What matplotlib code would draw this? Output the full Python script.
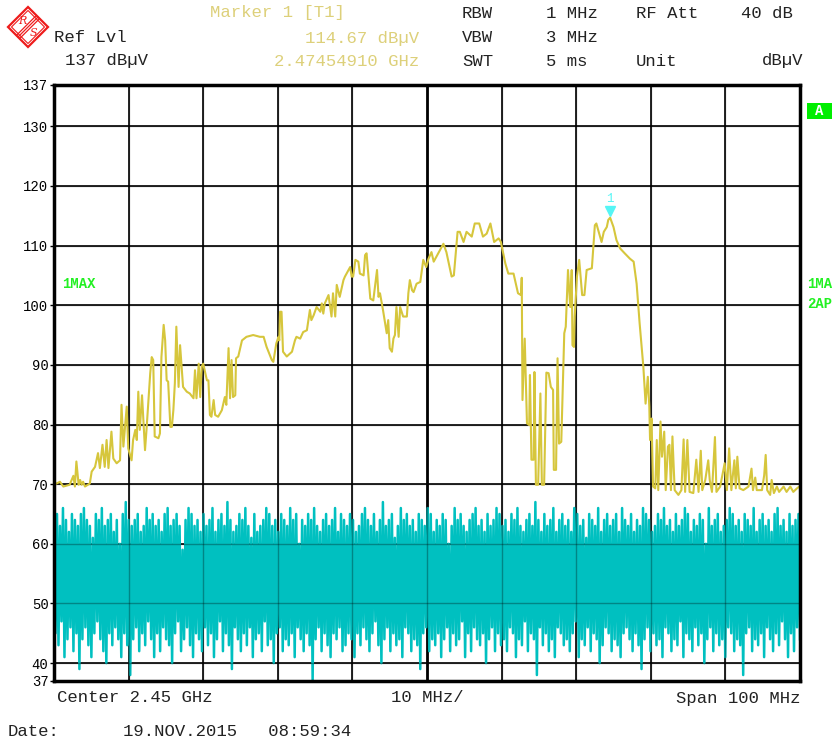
import numpy as np
import matplotlib
matplotlib.use("Agg")
import matplotlib.pyplot as plt
from matplotlib.patches import Polygon, Rectangle

# ---------------- data ----------------
start_mhz = 2400.0
span_mhz = 100.0
ref_level = 137
bottom_level = 37
y_tick_values = [37, 40, 50, 60, 70, 80, 90, 100, 110, 120, 130, 137]
y_tick_labels = ["37", "40", "50", "60", "70", "80", "90", "100", "110", "120", "130", "137"]
x_grid_mhz = [0, 10, 20, 30, 40, 50, 60, 70, 80, 90, 100]

# trace 1 (max hold), frequency offset in MHz from start, level in dBuV
trace1_freq = [
    0, 0.8, 1.25, 2.1, 2.6, 2.8, 3.0, 3.3, 3.5, 3.7, 3.9, 4.15, 4.8, 5.05, 5.5, 5.9, 6.15, 6.5, 6.8, 7.05,
    7.3, 7.7, 7.95, 8.4, 8.85, 9.05, 9.3, 9.75, 9.95, 10.4, 10.6, 10.9, 11.1, 11.3, 11.5, 11.8, 12.2, 12.4,
    12.9, 13.1, 13.3, 13.5, 14.0, 14.2, 14.4, 14.7, 14.9, 15.1, 15.3, 15.6, 15.8, 16.0, 16.2, 16.4, 16.7,
    16.9, 17.3, 17.8, 18.2, 18.7, 18.9, 19.1, 19.4, 19.6, 19.8, 20.0, 20.5, 20.7, 20.9, 21.1, 21.4, 21.6,
    22.0, 22.5, 22.9, 23.1, 23.4, 23.6, 23.8, 24.0, 24.3, 24.4, 24.7, 25.2, 25.8, 26.7, 27.6, 28.1, 28.5,
    29.2, 29.4, 29.8, 30.1, 30.2, 30.3, 30.5, 30.7, 31.2, 31.9, 32.3, 32.5, 33.0, 33.4, 33.9, 34.3, 34.5,
    34.8, 35.2, 35.7, 35.9, 36.1, 36.3, 36.8, 37.2, 37.4, 37.7, 37.9, 38.3, 38.8, 39.0, 39.7, 39.9, 40.1,
    40.4, 40.8, 41.0, 41.5, 41.7, 41.9, 42.4, 42.8, 43.3, 43.5, 43.7, 44.1, 44.6, 44.8, 45.0, 45.3, 45.5,
    45.7, 45.9, 46.2, 46.4, 46.8, 47.3, 47.5, 47.7, 48.0, 48.2, 48.6, 49.1, 49.5, 49.9, 50.2, 50.6, 50.9,
    51.5, 52.2, 52.6, 53.3, 53.6, 54.1, 54.4, 54.9, 55.3, 56.0, 56.4, 57.0, 57.5, 58.0, 58.5, 59.0, 59.6,
    59.9, 60.5, 60.9, 61.6, 62.2, 62.6, 62.7, 62.8, 63.1, 63.4, 63.7, 63.8, 64.0, 64.3, 64.4, 64.6, 64.9,
    65.2, 65.4, 65.7, 66.0, 66.3, 66.6, 66.9, 67.0, 67.3, 67.5, 67.7, 68.0, 68.4, 68.6, 68.9, 69.2, 69.4,
    69.5, 69.7, 69.8, 70.1, 70.4, 70.8, 71.1, 71.4, 72.1, 72.5, 72.7, 73.4, 73.7, 74.1, 74.3, 74.55, 75.0,
    75.4, 75.9, 76.5, 77.2, 77.7, 78.1, 78.5, 79.0, 79.3, 79.6, 79.8, 79.9, 80.1, 80.3, 80.6, 80.8, 81.0,
    81.3, 81.5, 81.8, 82.0, 82.3, 82.5, 82.7, 82.9, 83.2, 83.7, 84.1, 84.4, 84.6, 84.9, 85.2, 85.7, 86.1,
    86.4, 86.7, 86.9, 87.3, 87.7, 87.9, 88.2, 88.6, 88.8, 89.3, 89.9, 90.2, 90.5, 90.8, 91.2, 91.4, 91.6,
    91.9, 92.4, 93.1, 93.5, 93.7, 94.0, 94.2, 94.9, 95.2, 95.4, 95.6, 96.0, 96.2, 96.5, 96.9, 97.2, 97.8,
    98.2, 98.7, 99.1, 99.6, 100.0]
trace1_level = [
    69.9, 70.4, 69.6, 69.9, 71.4, 69.6, 73.8, 69.9, 70.7, 69.9, 70.4, 69.6, 70.1, 72.1, 72.9, 75.2, 72.7, 76.6, 72.9, 77.4,
    72.7, 78.8, 74.3, 73.5, 74.0, 83.3, 76.3, 83.0, 76.0, 74.0, 77.4, 79.1, 77.4, 85.5, 79.1, 84.9, 75.7, 79.1,
    88.6, 91.3, 90.8, 78.0, 77.7, 78.5, 91.3, 96.7, 94.1, 87.4, 87.2, 79.6, 79.6, 82.4, 86.9, 96.4, 86.3,
    93.3, 86.3, 85.5, 85.2, 84.4, 89.1, 84.4, 90.2, 84.6, 89.7, 90.2, 87.4, 87.4, 81.6, 81.3, 84.1, 81.6,
    81.3, 82.4, 84.6, 83.3, 92.8, 84.4, 90.8, 84.6, 84.9, 91.1, 91.4, 94.1, 94.7, 95.0, 94.7, 94.7, 93.0,
    90.8, 90.5, 93.6, 94.7, 94.1, 98.9, 98.9, 92.2, 91.4, 92.2, 94.1, 94.7, 94.4, 95.5, 95.8, 99.2, 97.5,
    98.3, 99.7, 98.9, 100.3, 98.6, 100.3, 101.7, 98.1, 102.0, 98.1, 103.4, 101.4, 104.2, 104.8, 106.4, 104.8, 104.8,
    107.6, 107.3, 105.3, 105.0, 108.4, 108.7, 101.1, 100.8, 105.9, 101.4, 102.0, 99.2, 95.3, 97.5, 92.8, 92.2, 94.4,
    95.0, 99.7, 94.7, 99.7, 98.1, 98.1, 102.0, 104.2, 102.5, 102.2, 103.6, 103.9, 107.6, 106.4, 107.8, 108.9, 107.3,
    108.7, 110.3, 108.9, 104.8, 105.0, 112.3, 112.3, 110.6, 112.3, 111.5, 113.7, 113.7, 111.5, 112.0, 113.7, 110.6, 111.2,
    110.6, 107.0, 105.3, 105.3, 102.0, 101.7, 104.6, 84.1, 94.4, 80.2, 79.9, 88.3, 74.1, 74.1, 88.8, 69.9, 69.9,
    85.2, 69.9, 69.9, 88.7, 88.6, 86.3, 85.8, 72.4, 72.4, 91.1, 76.8, 77.1, 95.3, 96.4, 105.9, 99.7, 105.9,
    93.3, 93.0, 98.1, 104.8, 107.6, 101.7, 101.7, 105.9, 106.2, 113.4, 113.7, 110.6, 112.3, 113.1, 114.3, 114.67, 113.1,
    110.9, 109.5, 108.7, 107.8, 107.3, 103.6, 97.0, 89.7, 83.5, 88.0, 83.0, 77.4, 81.0, 69.6, 69.3, 77.4, 69.0,
    80.5, 74.6, 78.8, 69.0, 76.3, 76.6, 69.0, 78.0, 69.0, 68.2, 69.0, 77.5, 68.7, 77.4, 68.7, 68.5, 74.1,
    68.7, 75.6, 69.0, 70.7, 74.0, 70.7, 68.7, 77.9, 68.7, 69.6, 73.5, 69.0, 76.0, 69.0, 74.0, 69.3, 74.6,
    69.3, 69.0, 69.6, 72.6, 69.0, 71.1, 69.0, 69.0, 71.5, 74.9, 69.0, 68.2, 70.7, 68.5, 69.6, 68.7, 69.6,
    68.7, 69.6, 68.7, 69.3, 69.7]

# trace 2 (clear/write noise): alternating peaks and troughs, dBuV
trace2_peaks = [
    64, 65, 63, 66, 64, 62, 65, 64, 63, 65, 66, 64, 63, 61, 65, 64, 66, 63, 64, 65, 62, 64, 60, 65, 67, 64, 63, 64, 65, 62,
    63, 66, 64, 65, 63, 64, 62, 65, 66, 63, 64, 65, 63, 59, 64, 66, 65, 63, 64, 62, 65, 63, 64, 66, 62, 64, 65, 63, 67, 64,
    62, 63, 65, 64, 66, 63, 61, 65, 62, 63, 64, 66, 65, 63, 64, 62, 65, 64, 63, 66, 64, 65, 60, 64, 63, 65, 64, 66, 63, 62,
    64, 65, 63, 64, 66, 62, 65, 64, 63, 65, 64, 62, 63, 65, 66, 64, 63, 65, 62, 64, 67, 63, 64, 65, 61, 63, 66, 64, 65, 63,
    64, 62, 65, 64, 63, 66, 65, 62, 64, 63, 65, 64, 60, 63, 66, 64, 65, 63, 62, 64, 65, 66, 63, 64, 62, 65, 63, 64, 66, 65,
    63, 64, 62, 65, 64, 66, 63, 62, 64, 65, 63, 67, 64, 62, 65, 63, 64, 66, 62, 64, 65, 63, 64, 62, 66, 65, 63, 64, 61, 65,
    64, 63, 66, 62, 64, 65, 63, 64, 65, 62, 66, 64, 63, 65, 62, 64, 63, 66, 65, 64, 62, 63, 65, 64, 66, 63, 64, 62, 65, 63,
    64, 66, 65, 62, 64, 63, 65, 64, 60, 66, 63, 64, 65, 62, 63, 64, 66, 65, 63, 64, 62, 65, 64, 63, 66, 62, 64, 65, 63, 64,
    62, 65, 66, 63, 64, 62, 65, 63, 64, 65]
trace2_troughs = [
    45, 43, 47, 41, 44, 46, 42, 45, 39, 44, 46, 43, 41, 45, 47, 44, 42, 40, 45, 43, 46, 44, 41, 45, 43, 38, 44, 46, 42, 45,
    43, 47, 44, 41, 45, 42, 46, 44, 43, 40, 45, 47, 42, 44, 46, 43, 41, 45, 44, 42, 46, 43, 45, 41, 44, 47, 42, 45, 43, 39,
    46, 44, 42, 45, 43, 46, 41, 44, 45, 42, 47, 43, 44, 40, 45, 46, 42, 44, 43, 45, 41, 46, 44, 42, 45, 43, 37, 44, 46, 42,
    45, 43, 41, 45, 44, 46, 42, 43, 45, 44, 41, 45, 43, 46, 44, 42, 45, 47, 43, 40, 44, 46, 42, 45, 43, 44, 41, 46, 45, 42,
    44, 43, 39, 45, 46, 42, 44, 43, 45, 41, 44, 46, 42, 45, 43, 44, 47, 41, 45, 42, 46, 44, 43, 45, 40, 44, 46, 42, 45, 43,
    44, 42, 46, 45, 41, 44, 43, 47, 42, 45, 44, 38, 46, 43, 45, 42, 44, 41, 46, 45, 43, 44, 42, 45, 47, 41, 44, 43, 46, 42,
    45, 44, 40, 43, 46, 45, 42, 44, 43, 41, 45, 46, 44, 42, 45, 43, 39, 44, 46, 42, 45, 43, 44, 41, 46, 45, 42, 44, 43, 47,
    41, 45, 44, 42, 46, 43, 45, 40, 44, 46, 42, 45, 43, 44, 41, 46, 45, 42, 44, 43, 38, 45, 46, 42, 44, 43, 45, 41, 46, 44,
    42, 45, 43, 47, 44, 41, 45, 42, 46, 44]

marker_freq = 74.5491
marker_level = 114.67

# ---------------- styling ----------------
MONO = ["Liberation Mono", "DejaVu Sans Mono"]
YEL = "#d6c63c"
YEL_TXT = "#ddd07a"
CYAN = "#00c0c0"
GREEN = "#22f022"
W, H = 833, 743

fig = plt.figure(figsize=(W / 100, H / 100), dpi=100)
fig.patch.set_facecolor("white")

def fx(px):
    return px / W

def fy(py):
    return 1 - py / H

ax = fig.add_axes([fx(54), fy(681), fx(800) - fx(54), fy(84.5) - fy(681)])
ax.set_xlim(0, span_mhz)
ax.set_ylim(bottom_level, ref_level)

# grid (below the traces)
for xv in x_grid_mhz:
    ax.axvline(xv, color="black", lw=2.0 if xv == 50 else 1.2, zorder=0.5)
for yv in y_tick_values:
    ax.axhline(yv, color="black", lw=1.2, zorder=0.5)

# noise trace (interleave peaks & troughs)
t2 = np.empty(len(trace2_peaks) + len(trace2_troughs))
t2[0::2] = trace2_peaks
t2[1::2] = trace2_troughs
x2 = np.linspace(0, span_mhz, len(t2))
ax.plot(x2, t2, color=CYAN, lw=1.8, zorder=1)

# faint grid showing through the noise band
for xv in x_grid_mhz:
    ax.axvline(xv, color="black", lw=1.0, alpha=0.3, zorder=1.5)
for yv in y_tick_values:
    ax.axhline(yv, color="black", lw=1.0, alpha=0.3, zorder=1.5)

# max-hold trace
ax.plot(trace1_freq, trace1_level, color=YEL, lw=1.5, zorder=3)

# marker
ax.plot([marker_freq], [marker_level + 1.2], marker="v", ms=7, color="#55f5f5",
        mec="#55f5f5", zorder=4)
ax.text(marker_freq, marker_level + 2.1, "1", color="#55f5f5", fontsize=9,
        family=MONO, ha="center", va="bottom", zorder=4)

ax.set_xticks(x_grid_mhz)
ax.set_xticklabels([])
ax.tick_params(axis="x", length=0)
ax.set_yticks(y_tick_values)
ax.set_yticklabels(y_tick_labels, family=MONO, fontsize=10)
ax.tick_params(axis="y", length=3, width=1, pad=1)
for s in ax.spines.values():
    s.set_linewidth(2.5)
    s.set_color("black")
    s.set_zorder(5)

ax.text(0.011, 0.665, "1MAX", transform=ax.transAxes, color=GREEN, fontsize=10,
        family=MONO, fontweight="bold", va="center", ha="left", zorder=6)

# ---------------- header texts ----------------
FS = 12.4
def t(px, py, s, color="#222222", ha="left", fs=FS, **kw):
    fig.text(fx(px), fy(py), s, color=color, ha=ha, va="center", fontsize=fs,
             family=MONO, **kw)

t(210, 13, "Marker 1 [T1]", color=YEL_TXT)
t(54, 38, "Ref Lvl")
t(419, 38, "114.67 dBµV", color=YEL_TXT, ha="right")
t(65, 61, "137 dBµV")
t(419, 61, "2.47454910 GHz", color=YEL_TXT, ha="right")
t(462, 13, "RBW")
t(546, 13, "1 MHz")
t(636, 13, "RF Att")
t(741, 13, "40 dB")
t(462, 38, "VBW")
t(546, 38, "3 MHz")
t(462, 61, "SWT")
t(546, 61, "5 ms")
t(636, 61, "Unit")
t(803, 61, "dBµV", ha="right")

t(57, 698, "Center 2.45 GHz")
t(427, 698, "10 MHz/", ha="center")
t(801, 698, "Span 100 MHz", ha="right")
t(8, 731, "Date:")
t(123, 731, "19.NOV.2015   08:59:34")

# right side labels
fig.patches.append(Rectangle((fx(807), fy(119)), fx(832) - fx(807), fy(103) - fy(119),
                             transform=fig.transFigure, facecolor="#00ee00",
                             edgecolor="none"))
t(819.5, 111, "A", color="white", ha="center", fs=10, fontweight="bold")
t(807, 284, "1MA", color=GREEN, fs=10, fontweight="bold")
t(807, 304, "2AP", color=GREEN, fs=10, fontweight="bold")

# ---------------- R&S logo ----------------
lax = fig.add_axes([fx(5), fy(50), fx(51) - fx(5), fy(4) - fy(50)])
lax.set_xlim(5, 51)
lax.set_ylim(50, 4)
lax.axis("off")
RED = "#ee1c1c"
lax.add_patch(Polygon([(8, 27), (28, 7), (48, 27), (28, 47)], closed=True,
                      facecolor="white", edgecolor=RED, lw=1.6))
lax.add_patch(Polygon([(11.5, 27), (28, 10.5), (44.5, 27), (28, 43.5)], closed=True,
                      facecolor="none", edgecolor=RED, lw=0.8))
for d in (-1.6, 0, 1.6):
    lax.plot([38 + d, 18 + d], [17 + d, 37 + d], color=RED, lw=0.9)
lax.text(22.5, 21, "R", color=RED, fontsize=8, ha="center", va="center",
         family=["DejaVu Serif"], style="italic")
lax.text(33.5, 33, "S", color=RED, fontsize=8, ha="center", va="center",
         family=["DejaVu Serif"], style="italic")

fig.savefig("out.png", dpi=100, facecolor="white")
